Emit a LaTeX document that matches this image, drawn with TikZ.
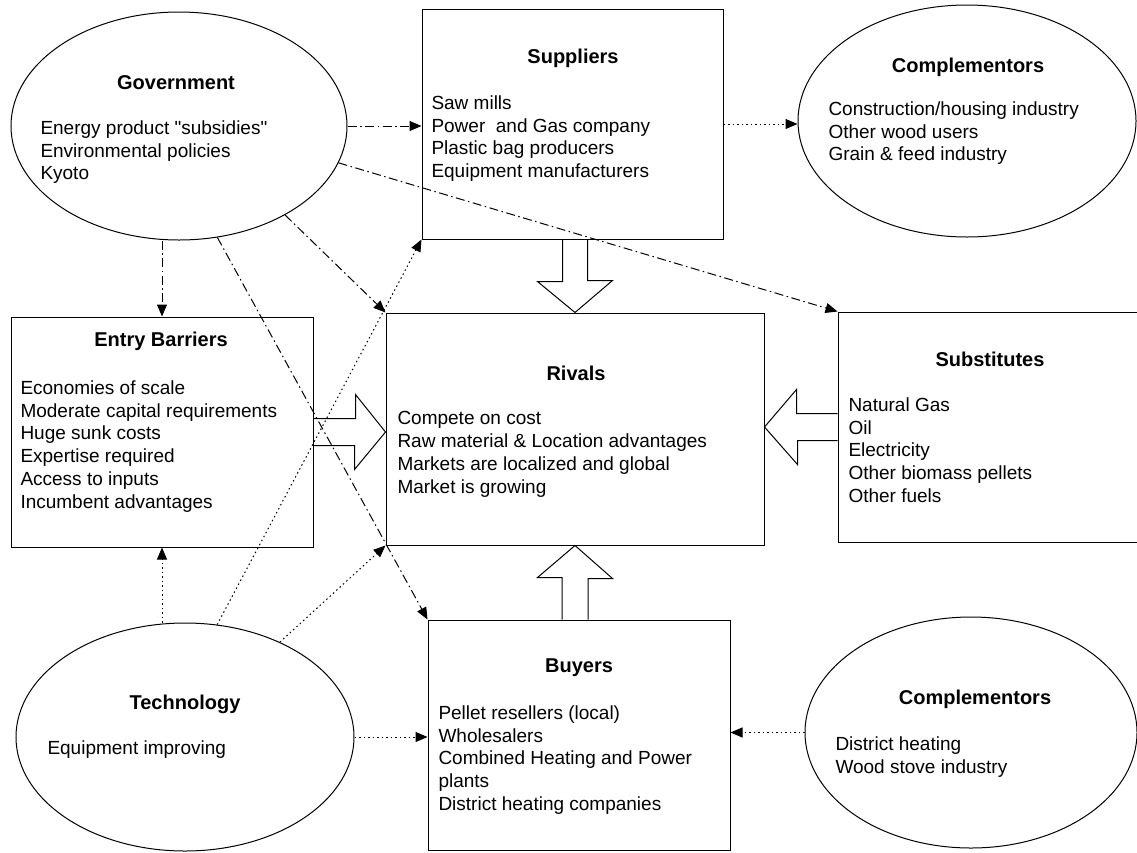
\documentclass[tikz,border=0pt]{standalone}
\usepackage{fontspec}
\setmainfont{Liberation Sans}
\usetikzlibrary{shapes.geometric,arrows.meta,calc}

\begin{document}
\begin{tikzpicture}[x=1pt,y=-1pt,line width=1pt,
		box/.style={draw,inner sep=0pt,minimum height=230pt},
		oval/.style={draw,ellipse,inner sep=0pt},
		hdr/.style={font=\bfseries\fontsize{20}{24}\selectfont,inner sep=0pt},
		items/.style={font=\fontsize{19}{22.8}\selectfont,align=left,anchor=north west,inner sep=0pt},
		govarrow/.style={dash pattern=on 9pt off 3.5pt on 1.5pt off 3.5pt,-{Triangle[length=12pt,width=10pt]}},
		techarrow/.style={dash pattern=on 1.5pt off 3pt,-{Triangle[length=12pt,width=10pt]}},
		fat/.style={draw,line join=miter}]
		\useasboundingbox (0,0) rectangle (1137,852);
		\node[oval,minimum width=336pt,minimum height=228pt] (gov) at (179,126) {};
		\node[box,minimum width=301pt] (sup) at (572.5,124) {};
		\node[oval,minimum width=338pt,minimum height=232pt] (compa) at (967,121) {};
		\node[box,minimum width=302pt] (ent) at (162,432) {};
		\node[box,minimum width=378pt,minimum height=232pt] (riv) at (575,429) {};
		\node[box,minimum width=304pt] (subs) at (990,427) {};
		\node[oval,minimum width=338pt,minimum height=228pt] (tech) at (185,737) {};
		\node[box,minimum width=302pt] (buy) at (579,735) {};
		\node[oval,minimum width=332pt,minimum height=231pt] (compb) at (971,732.5) {};

		\node[hdr] (govh) at (176,83) {Government};
		\node[items] (govl) at (40,120) {Energy product \textquotedbl subsidies\textquotedbl\\Environmental policies\\Kyoto};
		\node[hdr] (suph) at (573,58) {Suppliers};
		\node[items] (supl) at (431,95) {Saw mills\\Power\ \ and Gas company\\Plastic bag producers\\Equipment manufacturers};
		\node[hdr] (compah) at (968,67) {Complementors};
		\node[items] (compal) at (828,101) {Construction/housing industry\\Other wood users\\Grain \& feed industry};
		\node[hdr] (enth) at (161,341) {Entry Barriers};
		\node[items] (entl) at (20,380) {Economies of scale\\Moderate capital requirements\\Huge sunk costs\\Expertise required\\Access to inputs\\Incumbent advantages};
		\node[hdr] (rivh) at (576,373) {Rivals};
		\node[items] (rivl) at (397,411) {Compete on cost\\Raw material \& Location advantages\\Markets are localized and global\\Market is growing};
		\node[hdr] (subsh) at (990,359) {Substitutes};
		\node[items] (subsl) at (848,397) {Natural Gas\\Oil\\Electricity\\Other biomass pellets\\Other fuels};
		\node[hdr] (techh) at (185,704) {Technology};
		\node[items] (techl) at (47,740) {Equipment improving};
		\node[hdr] (buyh) at (579,668) {Buyers};
		\node[items] (buyl) at (438,705) {Pellet resellers (local)\\Wholesalers\\Combined Heating and Power\\plants\\District heating companies};
		\node[hdr] (compbh) at (975,699) {Complementors};
		\node[items] (compbl) at (835,736) {District heating\\Wood stove industry};

		\draw[fat] ($(riv.north |- sup.south)+(-12.5,0)$) -- ++(0,42) -- ++(-25,0) -- (riv.north) -- ++(37.5,-32) -- ++(-25,0) -- ($(riv.north |- sup.south)+(12.5,0)$);
		\draw[fat] ($(ent.east)+(0,-13.5)$) -- ++(42,0) -- ++(0,-24) -- (riv.west |- ent.east) -- ++(-31,37.5) -- ++(0,-24) -- ($(ent.east)+(0,13.5)$);
		\draw[fat] ($(subs.west)+(0,-13.5)$) -- ++(-41,0) -- ++(0,-24) -- (riv.east |- subs.west) -- ++(33,37.5) -- ++(0,-24) -- ($(subs.west)+(0,13.5)$);
		\draw[fat] ($(riv.south |- buy.north)+(-13,0)$) -- ++(0,-42) -- ++(-24.5,0) -- (riv.south) -- ++(37.5,33) -- ++(-24.5,0) -- ($(riv.south |- buy.north)+(13,0)$);

		\draw[govarrow] (gov.east) -- (gov.east -| sup.west);
		\draw[govarrow] (gov.-13) -- (subs.north west);
		\draw[govarrow] (gov.-40) -- (riv.north west);
		\draw[govarrow] (gov.-71) -- (buy.north west);
		\draw[govarrow] (gov.south -| ent.north) -- (ent.north);
		\draw[techarrow] (tech.north -| ent.south) -- (ent.south);
		\draw[techarrow] (tech.74) -- (sup.south west);
		\draw[techarrow] (tech.45) -- (riv.south west);
		\draw[techarrow] (tech.east) -- (tech.east -| buy.west);
		\draw[techarrow] (sup.east) -- (sup.east -| compa.west);
		\draw[techarrow] (compb.west) -- (compb.west -| buy.east);
	\end{tikzpicture}
\end{document}
